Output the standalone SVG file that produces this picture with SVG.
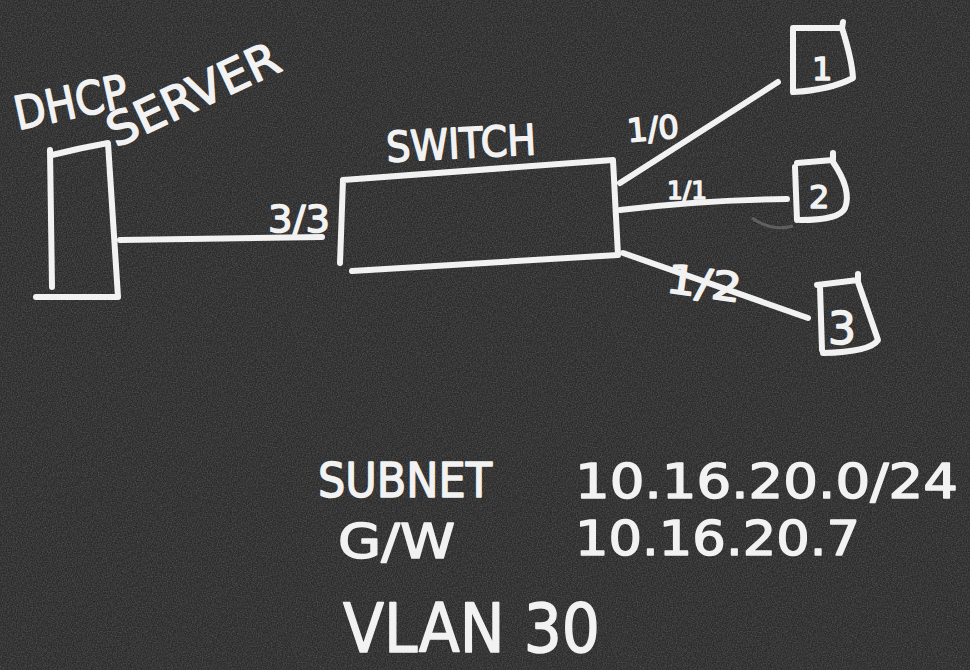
<svg xmlns="http://www.w3.org/2000/svg" width="970" height="670" viewBox="0 0 970 670">
<defs>
<filter id="noise" x="0" y="0" width="100%" height="100%">
<feTurbulence type="fractalNoise" baseFrequency="0.8" numOctaves="2" seed="3"/>
<feColorMatrix type="matrix" values="0 0 0 0 1  0 0 0 0 1  0 0 0 0 1  0.3 0 0 0 -0.1"/>
</filter>
<style>
.ch{fill:none;stroke:#f2f2f2;stroke-width:6;stroke-linecap:round;stroke-linejoin:round}
.tx{font-family:"DejaVu Sans","Liberation Sans",sans-serif;fill:#f2f2f2;stroke:#f2f2f2;stroke-width:1.5;stroke-linejoin:round}
</style>
</defs>
<rect width="970" height="670" fill="#2c2c2c"/>
<rect width="970" height="670" filter="url(#noise)"/>

<g id="connectors">
<path class="ch" d="M120,240 L322,237"/>
<path class="ch" d="M620,183 L778,82"/>
<path class="ch" d="M620,210 Q700,200 787,199"/>
<path class="ch" d="M623,253 L808,318"/>
<path d="M752,218 Q772,232 793,226" fill="none" stroke="#888" stroke-width="3" opacity="0.5"/>
<text class="tx" x="268" y="232" font-size="38" textLength="62" lengthAdjust="spacingAndGlyphs">3/3</text>
<text class="tx" x="628" y="142" font-size="32" textLength="52" lengthAdjust="spacingAndGlyphs" transform="rotate(-5 628 142)">1/0</text>
<text class="tx" x="667" y="199" font-size="24" textLength="40" lengthAdjust="spacingAndGlyphs">1/1</text>
<text class="tx" x="665" y="292" font-size="40" textLength="75" lengthAdjust="spacingAndGlyphs" transform="rotate(8 665 292)">1/2</text>
</g>

<g id="dhcp-server">
<path class="ch" d="M50,150 L52,287 M52,155 Q80,148 108,143 L118,297 M36,297 L118,297"/>
<text class="tx" x="18" y="130" font-size="46" textLength="115" lengthAdjust="spacingAndGlyphs" transform="rotate(-12 18 130)">DHCP</text>
<text class="tx" x="116" y="148" font-size="46" textLength="185" lengthAdjust="spacingAndGlyphs" transform="rotate(-25 116 148)">SERVER</text>
</g>

<g id="switch">
<path class="ch" d="M343,180 L613,160 L618,255 L352,271 M343,180 L340,263"/>
<text class="tx" x="387" y="162" font-size="42" textLength="150" lengthAdjust="spacingAndGlyphs" transform="rotate(-3 387 162)">SWITCH</text>
</g>

<g id="host-1">
<path class="ch" d="M793,28 L842,28 L843,22 M842,28 Q852,60 853,78 Q830,90 793,92 M793,30 L793,92"/>
<text class="tx" x="812" y="80" font-size="32">1</text>
</g>

<g id="host-2">
<path class="ch" d="M797,163 L833,160 L833,153 M833,162 Q852,190 845,208 Q840,220 800,220 M795,167 L797,220"/>
<text class="tx" x="809" y="208" font-size="32">2</text>
</g>

<g id="host-3">
<path class="ch" d="M817,285 L858,280 L858,274 M858,282 L878,340 Q870,352 823,353 M820,287 L822,350"/>
<text class="tx" x="828" y="344" font-size="44">3</text>
</g>

<g id="notes">
<text class="tx" x="318" y="497" font-size="48" textLength="174" lengthAdjust="spacingAndGlyphs">SUBNET</text>
<text class="tx" x="575" y="498" font-size="48" textLength="383" lengthAdjust="spacingAndGlyphs">10.16.20.0/24</text>
<text class="tx" x="338" y="558" font-size="48" textLength="117" lengthAdjust="spacingAndGlyphs">G/W</text>
<text class="tx" x="575" y="555" font-size="48" textLength="285" lengthAdjust="spacingAndGlyphs">10.16.20.7</text>
<text class="tx" x="343" y="652" font-size="68" textLength="257" lengthAdjust="spacingAndGlyphs">VLAN 30</text>
</g>
</svg>
